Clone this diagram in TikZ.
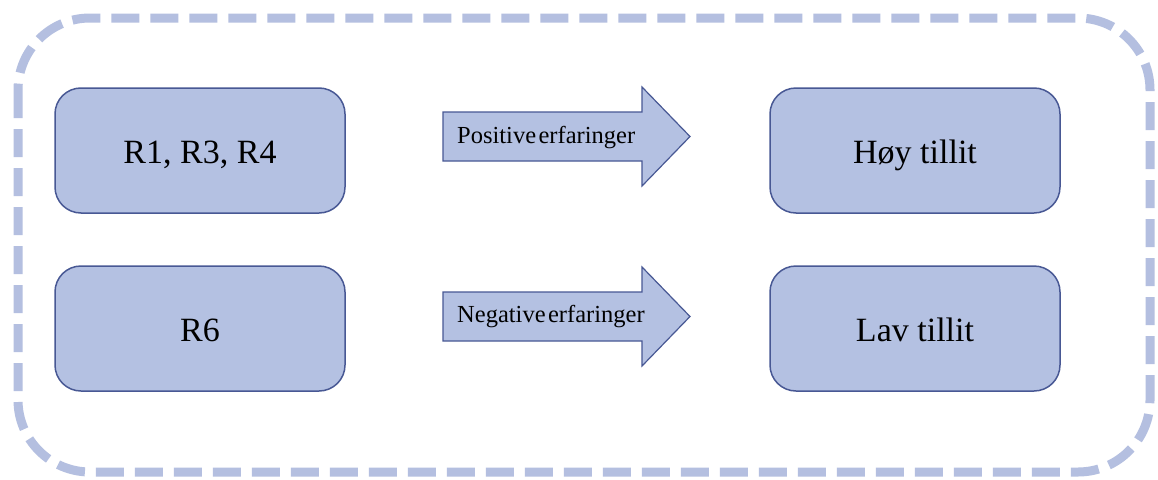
\documentclass[tikz,border=0pt]{standalone}
\usepackage{fontspec}
\setmainfont{Liberation Serif}
\definecolor{boxfill}{RGB}{180,193,226}
\definecolor{boxline}{RGB}{72,88,148}
\definecolor{frameblue}{RGB}{180,191,224}
% narrow word spacing for the arrow captions
\newcommand{\narrowwords}{\spaceskip 0.1em plus 0.05em\relax}
\begin{document}
\begin{tikzpicture}[x=1pt,y=-1pt,
  roundbox/.style={draw=boxline, fill=boxfill, line width=1.5pt, rounded corners=26pt,
    minimum width=290pt, minimum height=125pt, inner sep=0pt},
  boxtext/.style={inner sep=0pt, anchor=base, font=\fontsize{34}{40}\selectfont},
  blockarrow/.style={draw=boxline, fill=boxfill, line width=1.2pt, line join=miter},
  arrowtext/.style={inner sep=0pt, anchor=base west,
    font=\fontsize{24.5}{28}\selectfont\narrowwords}]
  % canvas
  \useasboundingbox (0,0) rectangle (1158,479);
  \fill[white] (0,0) rectangle (1158,479);
  % dashed frame around everything
  \draw[frameblue, line width=9pt, dash pattern=on 28pt off 11pt, rounded corners=72pt]
    (18,18) rectangle (1150,472);
  % left column
  \node[roundbox] (r134) at (200,150.5) {};
  \node[roundbox] (r6)   at (200,328.5) {};
  % right column
  \node[roundbox] (high) at (915,150.5) {};
  \node[roundbox] (low)  at (915,328.5) {};
  % box labels, set on a common baseline slightly below the box centre
  \node[boxtext] (r134t) at ([yshift=-13pt]r134.center) {R1, R3, R4};
  \node[boxtext] (r6t)   at ([yshift=-13pt]r6.center)   {R6};
  \node[boxtext] (hight) at ([yshift=-13pt]high.center) {Høy tillit};
  \node[boxtext] (lowt)  at ([yshift=-13pt]low.center)  {Lav tillit};
  % block arrows
  \draw[blockarrow] (443,112) -- (642,112) -- (642,87) -- (690,136.5) -- (642,186)
    -- (642,161) -- (443,161) -- cycle;
  \draw[blockarrow] (443,292) -- (642,292) -- (642,267) -- (690,316.5) -- (642,366)
    -- (642,341) -- (443,341) -- cycle;
  \node[arrowtext] (pos) at (457,143.3) {Positive erfaringer};
  \node[arrowtext] (neg) at (457,322.5) {Negative erfaringer};
\end{tikzpicture}
\end{document}
